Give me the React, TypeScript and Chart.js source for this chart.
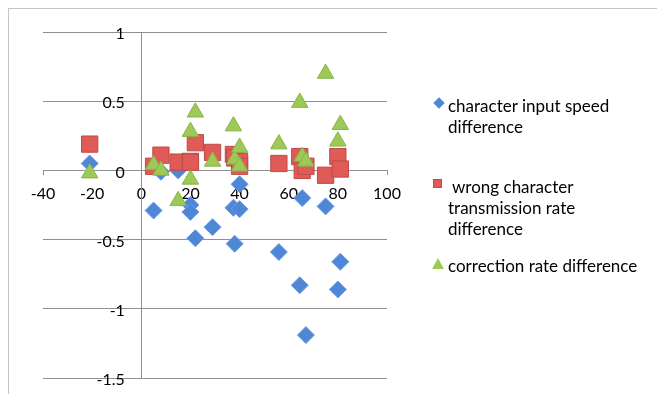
import React, { useEffect, useRef } from "react";
import { Chart, registerables } from "chart.js";
Chart.register(...registerables);

const xValues = [-21, 5, 8, 15, 20, 20, 22, 29, 37.5, 38, 40, 40, 56, 64.5, 65.5, 67, 75, 80, 81];
const speedDiff = [0.05, -0.29, -0.01, 0.0, -0.25, -0.3, -0.49, -0.41, -0.27, -0.53, -0.1, -0.28, -0.59, -0.83, -0.2, -1.19, -0.26, -0.86, -0.66];
const wrongDiff = [0.19, 0.03, 0.11, 0.06, 0.065, 0.06, 0.2, 0.13, 0.115, 0.09, 0.065, 0.03, 0.05, 0.1, 0.0, 0.03, -0.035, 0.1, 0.01];
const correctionDiff = [-0.02, 0.04, 0.0, -0.22, -0.065, 0.28, 0.42, 0.065, 0.32, 0.08, 0.165, 0.03, 0.19, 0.49, 0.1, 0.065, 0.7, 0.21, 0.33];
const seriesNames = [
  "character input speed difference",
  " wrong character transmission rate difference",
  "correction rate difference",
];
const legendLines = [
  ["character input speed", "difference"],
  [" wrong character", "transmission rate", "difference"],
  ["correction rate difference"],
];

const FONT = "Lato, 'Open Sans', sans-serif";
const BLUE = "#4f86d6";
const BLUE_B = "#6e9ee2";
const RED = "#e05a58";
const RED_B = "#bf4a47";
const GREEN = "#9dc957";
const GREEN_B = "#8ab24a";
const GRID = "#8f8f8f";

function pts(ys: number[]) {
  return xValues.map((x, i) => ({ x, y: ys[i] }));
}

function zeroPad(s: any) {
  s.paddingLeft = 0;
  s.paddingRight = 0;
  s.paddingTop = 0;
  s.paddingBottom = 0;
}

export default function App() {
  const ref = useRef<HTMLCanvasElement | null>(null);
  useEffect(() => {
    if (!ref.current) return;
    const chart = new Chart(ref.current, {
      type: "scatter",
      data: {
        datasets: [
          {
            label: seriesNames[0],
            data: pts(speedDiff),
            pointStyle: "rectRot",
            pointRadius: 8.5,
            backgroundColor: BLUE,
            borderColor: BLUE_B,
            borderWidth: 1,
            order: 2,
          },
          {
            label: seriesNames[1],
            data: pts(wrongDiff),
            pointStyle: "rect",
            pointRadius: 11.5,
            backgroundColor: RED,
            borderColor: RED_B,
            borderWidth: 1,
            order: 1,
          },
          {
            label: seriesNames[2],
            data: pts(correctionDiff),
            pointStyle: "triangle",
            pointRadius: 9.5,
            backgroundColor: GREEN,
            borderColor: GREEN_B,
            borderWidth: 1,
            order: 0,
          },
        ],
      },
      options: {
        responsive: false,
        animation: false,
        layout: { padding: { left: 43, right: 270, top: 32, bottom: 16 } },
        plugins: { legend: { display: false }, tooltip: { enabled: false } },
        scales: {
          x: {
            type: "linear",
            min: -40,
            max: 100,
            position: { y: 0 } as any,
            afterFit: (s: any) => {
              s.height = 0;
              zeroPad(s);
            },
            ticks: {
              stepSize: 20,
              padding: 10,
              color: "#000",
              font: { family: FONT, size: 16 },
              callback: (v: any) => String(v),
            },
            grid: {
              drawOnChartArea: false,
              drawTicks: true,
              tickLength: 4,
              color: (ctx: any) =>
                ctx.tick && (ctx.tick.value === -40 || ctx.tick.value === 100) ? GRID : "rgba(0,0,0,0)",
            },
            border: { display: true, color: GRID, width: 1 },
          },
          y: {
            type: "linear",
            min: -1.5,
            max: 1,
            position: { x: 0 } as any,
            afterFit: (s: any) => {
              s.width = 0;
              zeroPad(s);
            },
            ticks: {
              stepSize: 0.5,
              padding: 0,
              labelOffset: 2,
              color: "#000",
              font: { family: FONT, size: 16 },
              callback: (v: any) => String(v) + "    ",
            },
            grid: { color: GRID, lineWidth: 1, drawTicks: false },
            border: { display: true, color: GRID, width: 1 },
          },
        },
      },
    });
    return () => chart.destroy();
  }, []);

  const markers = [
    { top: 103, shape: "diamond" },
    { top: 184, shape: "square" },
    { top: 264, shape: "triangle" },
  ];
  const textTops = [94.5, 175.5, 254.5];

  return (
    <div style={{ position: "fixed", left: 0, top: 0, width: 657, height: 394, overflow: "hidden", background: "#fff" }}>
      <div
        style={{
          position: "absolute",
          left: 8,
          top: 8,
          width: 700,
          height: 420,
          borderLeft: "1px solid #c4c4c4",
          borderTop: "1px solid #c4c4c4",
        }}
      />
      <canvas ref={ref} width={657} height={394} style={{ position: "absolute", left: 0, top: 0 }} />
      {markers.map((m, i) => {
        let el: React.ReactNode = null;
        if (m.shape === "diamond") {
          el = (
            <div
              style={{
                position: "absolute",
                left: 439 - 4,
                top: m.top - 4,
                width: 8,
                height: 8,
                background: BLUE,
                transform: "rotate(45deg)",
              }}
            />
          );
        } else if (m.shape === "square") {
          el = (
            <div
              style={{
                position: "absolute",
                left: 438 - 5,
                top: m.top - 5,
                width: 9,
                height: 9,
                background: RED,
                border: `1px solid ${RED_B}`,
                boxSizing: "border-box",
              }}
            />
          );
        } else {
          el = (
            <div
              style={{
                position: "absolute",
                left: 438 - 6,
                top: m.top - 6,
                width: 0,
                height: 0,
                borderLeft: "6px solid transparent",
                borderRight: "6px solid transparent",
                borderBottom: `11px solid ${GREEN}`,
              }}
            />
          );
        }
        return <React.Fragment key={i}>{el}</React.Fragment>;
      })}
      {legendLines.map((lines, i) => (
        <div
          key={i}
          style={{
            position: "absolute",
            left: 448,
            top: textTops[i],
            fontFamily: FONT,
            fontSize: 17,
            lineHeight: "21px",
            color: "#000",
            whiteSpace: "pre",
          }}
        >
          {lines.map((l, j) => (
            <div key={j}>{l}</div>
          ))}
        </div>
      ))}
    </div>
  );
}
